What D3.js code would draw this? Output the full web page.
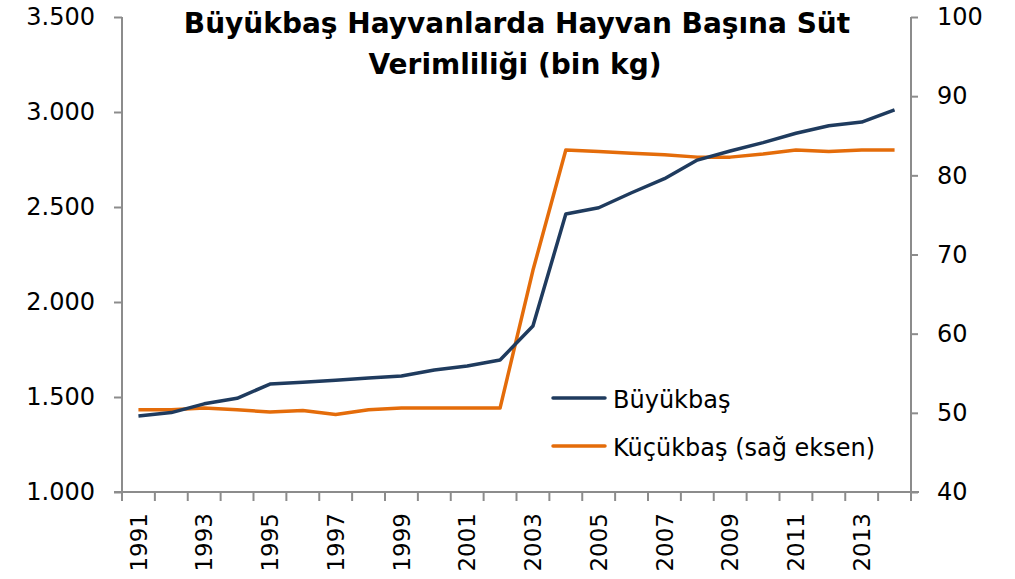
<!DOCTYPE html>
<html>
<head>
<meta charset="utf-8">
<script src="https://cdn.jsdelivr.net/npm/d3@7"></script>
<style>
  body { margin: 0; background: #fff; }
  text { font-family: "DejaVu Sans", sans-serif; fill: #000; }
</style>
</head>
<body>
<div id="chart"></div>
<script>
// years on the x axis
const years = d3.range(1991, 2015);
// Büyükbaş (left axis)
const buyukbas = [1400, 1418, 1464, 1493, 1568, 1578, 1588, 1600, 1611, 1642, 1663, 1695,
                  1874, 2463, 2496, 2575, 2649, 2747, 2795, 2839, 2888, 2928, 2947, 3011];
// Küçükbaş (right axis)
const kucukbas = [50.4, 50.4, 50.6, 50.4, 50.1, 50.3, 49.8, 50.4, 50.6, 50.6, 50.6, 50.6,
                  68.0, 83.2, 83.0, 82.8, 82.6, 82.3, 82.3, 82.7, 83.2, 83.0, 83.2, 83.2];
const leftTicks = [1000, 1500, 2000, 2500, 3000, 3500];
const rightTicks = [40, 50, 60, 70, 80, 90, 100];
const yearLabels = years.filter(y => y % 2 === 1);

const width = 1015, height = 579;
const plot = {left: 122, right: 911, top: 17, bottom: 492};
const axisColor = "#8c8c8c";

const svg = d3.select("#chart").append("svg")
    .attr("width", width)
    .attr("height", height);

const x = d3.scaleBand().domain(years).range([plot.left, plot.right]).padding(0);
const yL = d3.scaleLinear().domain([1000, 3500]).range([plot.bottom, plot.top]);
const yR = d3.scaleLinear().domain([40, 100]).range([plot.bottom, plot.top]);

const trFormat = d3.formatLocale({decimal: ",", thousands: ".", grouping: [3], currency: ["", ""]}).format(",");

// left axis
const gL = svg.append("g")
    .attr("transform", `translate(${plot.left},0)`)
    .call(d3.axisLeft(yL).tickValues(leftTicks).tickSize(8).tickPadding(19).tickFormat(trFormat));
// right axis
const gR = svg.append("g")
    .attr("transform", `translate(${plot.right},0)`)
    .call(d3.axisRight(yR).tickValues(rightTicks).tickSize(7).tickPadding(19));

[gL, gR].forEach(g => {
    g.select(".domain").attr("stroke", axisColor).attr("stroke-width", 2)
        .attr("d", `M0,${plot.top}V${plot.bottom}`);
    g.selectAll(".tick line").attr("stroke", axisColor).attr("stroke-width", 2);
    g.selectAll(".tick text")
        .style("font-family", "DejaVu Sans, sans-serif")
        .style("font-size", "24px")
        .attr("fill", "#000");
});

// x axis: line and ticks at band edges
const xAxis = svg.append("g");
xAxis.append("line")
    .attr("x1", plot.left - 8).attr("x2", plot.right + 8)
    .attr("y1", plot.bottom).attr("y2", plot.bottom)
    .attr("stroke", axisColor).attr("stroke-width", 2);
const edges = years.map(d => x(d)).concat([x.range()[1]]);
xAxis.selectAll(".xtick")
    .data(edges)
    .enter().append("line")
    .attr("class", "xtick")
    .attr("x1", d => d).attr("x2", d => d)
    .attr("y1", plot.bottom).attr("y2", plot.bottom + 9)
    .attr("stroke", axisColor).attr("stroke-width", 2);
xAxis.selectAll(".xlabel")
    .data(yearLabels)
    .enter().append("text")
    .attr("class", "xlabel")
    .attr("transform", d => `translate(${x(d) + x.bandwidth() / 2},${plot.bottom + 21}) rotate(-90)`)
    .attr("text-anchor", "end")
    .attr("dy", "0.36em")
    .style("font-size", "23px")
    .text(d => d);

// lines
const lineL = d3.line().x((d, i) => x(years[i]) + x.bandwidth() / 2).y(d => yL(d));
const lineR = d3.line().x((d, i) => x(years[i]) + x.bandwidth() / 2).y(d => yR(d));

svg.append("path")
    .datum(kucukbas)
    .attr("d", lineR)
    .attr("fill", "none")
    .attr("stroke", "#e46c0a")
    .attr("stroke-width", 3.5)
    .attr("stroke-linejoin", "round");

svg.append("path")
    .datum(buyukbas)
    .attr("d", lineL)
    .attr("fill", "none")
    .attr("stroke", "#1f3b5e")
    .attr("stroke-width", 3.5)
    .attr("stroke-linejoin", "round");

// legend
const legend = [
    {name: "Büyükbaş", color: "#1f3b5e"},
    {name: "Küçükbaş (sağ eksen)", color: "#e46c0a"}
];
const lg = svg.selectAll(".legend")
    .data(legend)
    .enter().append("g")
    .attr("class", "legend")
    .attr("transform", (d, i) => `translate(553,${398 + i * 48})`);
lg.append("line")
    .attr("x1", 0).attr("x2", 52)
    .attr("stroke", d => d.color)
    .attr("stroke-width", 3.5)
    .attr("stroke-linecap", "round");
lg.append("text")
    .attr("x", 60)
    .attr("y", 10)
    .style("font-size", "24px")
    .text(d => d.name);

// title
const title = svg.append("text")
    .attr("text-anchor", "middle")
    .style("font-family", "DejaVu Sans, sans-serif")
    .style("font-weight", "bold")
    .style("font-size", "28px");
title.append("tspan").attr("x", 517).attr("y", 33).text("Büyükbaş Hayvanlarda Hayvan Başına Süt");
title.append("tspan").attr("x", 515).attr("y", 74).text("Verimliliği (bin kg)");
</script>
</body>
</html>
